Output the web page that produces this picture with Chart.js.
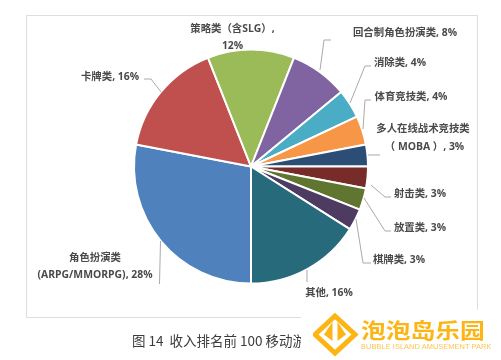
<!DOCTYPE html>
<html lang="zh">
<head>
<meta charset="utf-8">
<script src="https://cdn.jsdelivr.net/npm/chart.js@4"></script>
<style>
html,body{margin:0;padding:0;background:#fff;}
#wrap{position:relative;width:501px;height:360px;overflow:hidden;font-family:"Noto Sans CJK SC","Noto Sans",sans-serif;}
#frame{position:absolute;left:26px;top:15px;width:450px;height:301px;border:1.5px solid #dedede;box-sizing:content-box;}
canvas{position:absolute;left:0;top:0;}
#caption{position:absolute;left:132px;top:330px;font-size:13.5px;line-height:20px;color:#3c3c3c;white-space:nowrap;}
#cover{position:absolute;left:301px;top:310px;width:200px;height:50px;background:#fff;}
#logo{position:absolute;left:313px;top:313px;}
#logoCn{position:absolute;left:361px;top:314px;font-size:21px;line-height:30px;font-weight:700;color:#fdb515;white-space:nowrap;transform:scaleX(1.18);transform-origin:left center;}
#logoEn{position:absolute;left:361px;top:342px;font-size:7.4px;line-height:10px;color:#fbc552;white-space:nowrap;letter-spacing:.08px;font-family:"Liberation Sans",sans-serif;}
</style>
</head>
<body>
<div id="wrap">
  <div id="frame"></div>
  <canvas id="c" width="501" height="360"></canvas>
  <div id="caption">图 14&nbsp; 收入排名前 100 移动游戏</div>
  <div id="cover"></div>
  <svg id="logo" width="46" height="44" viewBox="0 0 46 44">
    <path d="M22 3 L42 21.5 L22 40 L2 21.5 Z" fill="none" stroke="#fdb515" stroke-width="5"/>
    <path d="M19.5 9 V28 L11 21.5 Z M24.5 9 V28 L33 21.5 Z" fill="#fdb515"/>
  </svg>
  <div id="logoCn">泡泡岛乐园</div>
  <div id="logoEn">BUBBLE ISLAND AMUSEMENT PARK</div>
</div>
<script>
const categories = ["角色扮演类 (ARPG/MMORPG)","卡牌类","策略类(含SLG)","回合制角色扮演类","消除类","体育竞技类","多人在线战术竞技类(MOBA)","射击类","放置类","棋牌类","其他"];
const shares = [28,16,12,8,4,4,3,3,3,3,16];
const sliceColors = ["#4F81BD","#C0504D","#9BBB59","#8064A2","#4BACC6","#F79646","#2C4D75","#772C2A","#5F7530","#4D3B62","#276A7C"];

const labelLines = [
  ["角色扮演类","(ARPG/MMORPG), 28%"],["卡牌类, 16%"],["策略类（含SLG）,","12%"],["回合制角色扮演类, 8%"],
  ["消除类, 4%"],["体育竞技类, 4%"],["多人在线战术竞技类","（ MOBA ）, 3%"],["射击类, 3%"],["放置类, 3%"],["棋牌类, 3%"],["其他, 16%"]
];
const labelAnchors = [
  [[95,258],[95,275]],[[110,77]],[[232.5,29],[232.5,46]],[[405,33]],
  [[400,63]],[[411,97]],[[423,129],[424.5,147]],[[420,194]],[[420,228]],[[399,260]],[[329,293]]
];
const leaderPaths = [
  [[160.5,241],[159.5,284]],[[161,92],[151,79],[144,79]],null,[[320,70],[324,40],[331,40]],
  [[350,103],[365,66],[371,66]],[[363,129],[365,100],[371,100]],[[368,155],[380,155]],
  [[371,185],[385,197],[391,197]],[[364,198],[385,231],[391,231]],[[356,219],[363,263],[371,263]],[[307,270],[307,282]]
];

const pieLabels = {
  id:"pieLabels",
  afterDatasetsDraw(chart){
    const ctx = chart.ctx;
    ctx.save();
    ctx.strokeStyle = "#a9a9a9";
    ctx.lineWidth = 1;
    leaderPaths.forEach(p=>{
      if(!p) return;
      ctx.beginPath();
      p.forEach((q,i)=> i ? ctx.lineTo(q[0],q[1]) : ctx.moveTo(q[0],q[1]));
      ctx.stroke();
    });
    ctx.fillStyle = "#4a4a4a";
    ctx.font = '700 10.4px "Open Sans","Noto Sans CJK SC",sans-serif';
    ctx.textAlign = "center";
    ctx.textBaseline = "middle";
    labelLines.forEach((lines,i)=>{
      lines.forEach((t,j)=> ctx.fillText(t,labelAnchors[i][j][0],labelAnchors[i][j][1]));
    });
    ctx.restore();
  }
};

new Chart(document.getElementById("c"),{
  type:"pie",
  data:{labels:categories,datasets:[{data:shares,backgroundColor:sliceColors,borderColor:"#ffffff",borderWidth:2}]},
  options:{
    responsive:false,
    animation:false,
    rotation:180,
    layout:{padding:{left:133,right:132,top:48.5,bottom:75.5}},
    plugins:{legend:{display:false},tooltip:{enabled:false}}
  },
  plugins:[pieLabels]
});
</script>
</body>
</html>
